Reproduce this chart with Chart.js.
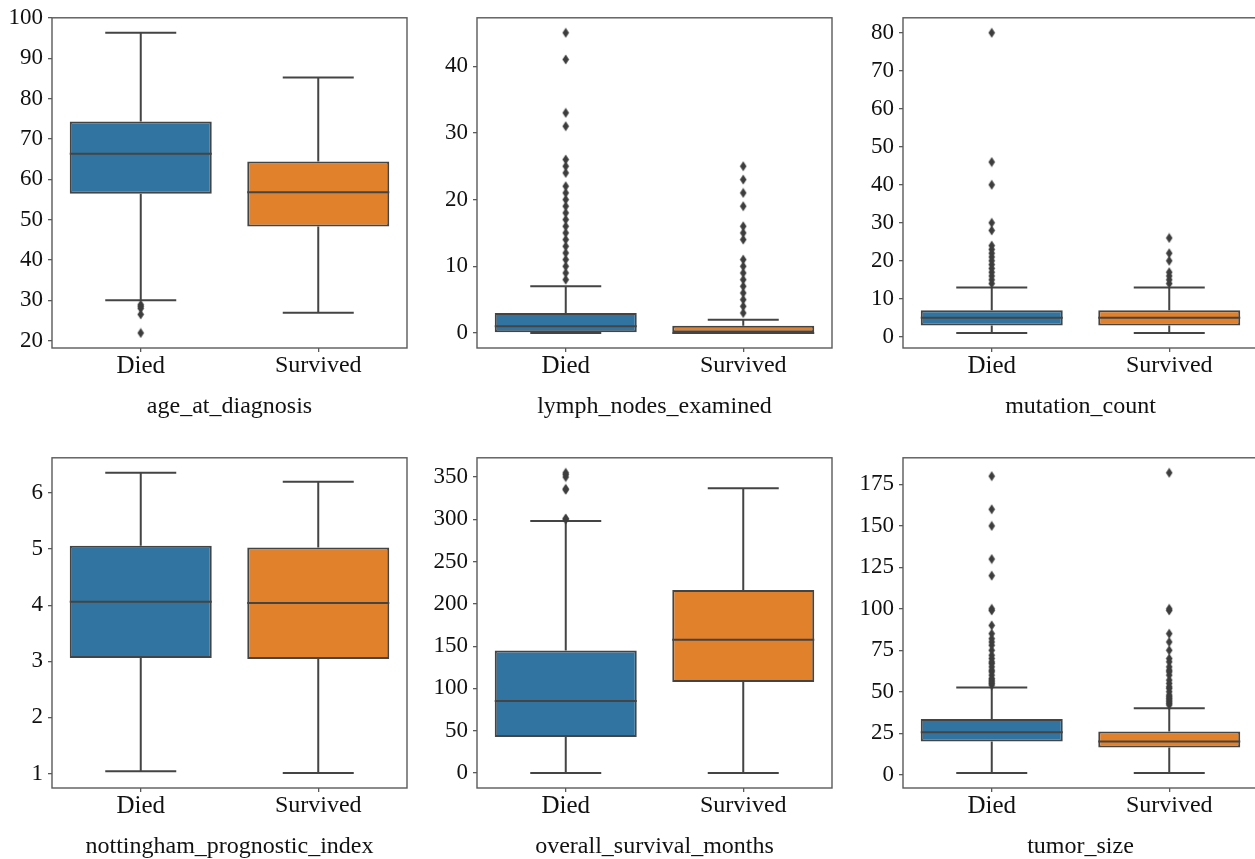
<!DOCTYPE html>
<html>
<head>
<meta charset="utf-8">
<title>Box plots by outcome</title>
<script src="https://cdn.jsdelivr.net/npm/chart.js@4/dist/chart.umd.min.js"></script>
<style>
  html, body { margin: 0; padding: 0; background: #fff; overflow: hidden; }
  body { width: 1255px; height: 859px; position: relative; }
  canvas { position: absolute; }
</style>
</head>
<body>
<canvas id="c0" width="417" height="424" style="left:0px;top:-1px"></canvas>
<canvas id="c1" width="417" height="424" style="left:425px;top:-1px"></canvas>
<canvas id="c2" width="417" height="424" style="left:851px;top:-1px"></canvas>
<canvas id="c3" width="417" height="424" style="left:0px;top:439px"></canvas>
<canvas id="c4" width="417" height="424" style="left:425px;top:439px"></canvas>
<canvas id="c5" width="417" height="424" style="left:851px;top:439px"></canvas>
<script>
// groups on the x axis
const groups = ['Died', 'Survived'];

// five-number summaries: [lower whisker, Q1, median, Q3, upper whisker]
const ageDied = [30.0, 56.4, 66.3, 74.3, 96.3];
const ageSurvived = [26.9, 48.3, 56.8, 64.4, 85.2];
const ageDiedOut = [28.9, 28.5, 28.0, 26.5, 21.9];
const ageSurvivedOut = [];
const ageTicks = [20, 30, 40, 50, 60, 70, 80, 90, 100];

const lymphDied = [0, 0, 1, 3, 7];
const lymphSurvived = [0, 0, 0, 1.1, 2];
const lymphDiedOut = [8, 9, 10, 11, 12, 13, 14, 15, 16, 17, 18, 19, 20, 21, 22, 24, 25, 26, 31, 33, 41, 45];
const lymphSurvivedOut = [3, 4, 5, 6, 7, 8, 9, 10, 11, 14, 15, 16, 19, 21, 23, 25];
const lymphTicks = [0, 10, 20, 30, 40];

const mutDied = [1, 3, 5, 7, 13];
const mutSurvived = [1, 3, 5, 7, 13];
const mutDiedOut = [14, 15, 16, 17, 18, 19, 20, 21, 22, 23, 24, 28, 30, 40, 46, 80];
const mutSurvivedOut = [14, 15, 16, 17, 20, 22, 26];
const mutTicks = [0, 10, 20, 30, 40, 50, 60, 70, 80];

const npiDied = [1.04, 3.06, 4.06, 5.06, 6.36];
const npiSurvived = [1.01, 3.04, 4.04, 5.03, 6.2];
const npiDiedOut = [];
const npiSurvivedOut = [];
const npiTicks = [1, 2, 3, 4, 5, 6];

const osmDied = [0, 42.6, 85.2, 145, 298];
const osmSurvived = [0, 107.6, 157.7, 216.3, 336.6];
const osmDiedOut = [300, 301, 335, 336, 350, 353, 355];
const osmSurvivedOut = [];
const osmTicks = [0, 50, 100, 150, 200, 250, 300, 350];

const tumorDied = [1, 20, 25.5, 33.5, 52.5];
const tumorSurvived = [1, 16.4, 20, 26, 40];
const tumorDiedOut = [54, 55, 56, 57, 58, 60, 62, 63, 65, 67, 68, 70, 72, 75, 78, 80, 82, 85, 90, 99, 100, 120, 130, 150, 160, 180];
const tumorSurvivedOut = [42, 43, 44, 45, 46, 47, 48, 50, 52, 53, 55, 57, 60, 62, 63, 65, 68, 70, 75, 80, 85, 99, 100, 182];
const tumorTicks = [0, 25, 50, 75, 100, 125, 150, 175];

const titles = ['age_at_diagnosis', 'lymph_nodes_examined', 'mutation_count',
  'nottingham_prognostic_index', 'overall_survival_months', 'tumor_size'];

const BLUE = '#3274a1';
const ORANGE = '#e1812c';
const LINE = '#444444';
const FRAME = '#5a5a5a';
const SERIF = "'Liberation Serif', 'Times New Roman', serif";

// thin diamond marker like matplotlib's 'd'
function makeDiamond() {
  const c = document.createElement('canvas');
  c.width = 8; c.height = 11;
  const g = c.getContext('2d');
  g.fillStyle = '#3d3d3d';
  g.beginPath();
  g.moveTo(4, 0.5);
  g.lineTo(7.3, 5.5);
  g.lineTo(4, 10.5);
  g.lineTo(0.7, 5.5);
  g.closePath();
  g.fill();
  return c;
}
const diamond = makeDiamond();

// whiskers, caps, medians and the axes frame
const boxExtras = {
  id: 'boxExtras',
  beforeDatasetsDraw(chart, args, opts) {
    const { ctx, scales: { x, y } } = chart;
    const cap = (x.getPixelForValue(1) - x.getPixelForValue(0)) * 0.2;
    ctx.save();
    ctx.strokeStyle = LINE;
    ctx.lineWidth = 2;
    opts.stats.forEach((st, i) => {
      const cx = x.getPixelForValue(i);
      ctx.beginPath();
      ctx.moveTo(cx, y.getPixelForValue(st[0]));
      ctx.lineTo(cx, y.getPixelForValue(st[1]));
      ctx.moveTo(cx, y.getPixelForValue(st[3]));
      ctx.lineTo(cx, y.getPixelForValue(st[4]));
      ctx.moveTo(cx - cap, y.getPixelForValue(st[0]));
      ctx.lineTo(cx + cap, y.getPixelForValue(st[0]));
      ctx.moveTo(cx - cap, y.getPixelForValue(st[4]));
      ctx.lineTo(cx + cap, y.getPixelForValue(st[4]));
      ctx.stroke();
    });
    ctx.restore();
  },
  afterDatasetsDraw(chart, args, opts) {
    const { ctx, scales: { x, y } } = chart;
    const half = (x.getPixelForValue(1) - x.getPixelForValue(0)) * 0.4;
    ctx.save();
    ctx.strokeStyle = LINE;
    ctx.lineWidth = 2;
    opts.stats.forEach((st, i) => {
      const cx = x.getPixelForValue(i);
      const my = y.getPixelForValue(st[2]);
      ctx.beginPath();
      ctx.moveTo(cx - half, my);
      ctx.lineTo(cx + half, my);
      ctx.stroke();
    });
    ctx.restore();
  },
  afterDraw(chart) {
    const { ctx, chartArea: a } = chart;
    ctx.save();
    ctx.strokeStyle = FRAME;
    ctx.lineWidth = 1.4;
    ctx.strokeRect(a.left, a.top, a.right - a.left, a.bottom - a.top);
    ctx.restore();
  }
};

const panels = [
  { id: 'c0', died: ageDied, surv: ageSurvived, diedOut: ageDiedOut, survOut: ageSurvivedOut, ticks: ageTicks },
  { id: 'c1', died: lymphDied, surv: lymphSurvived, diedOut: lymphDiedOut, survOut: lymphSurvivedOut, ticks: lymphTicks },
  { id: 'c2', died: mutDied, surv: mutSurvived, diedOut: mutDiedOut, survOut: mutSurvivedOut, ticks: mutTicks },
  { id: 'c3', died: npiDied, surv: npiSurvived, diedOut: npiDiedOut, survOut: npiSurvivedOut, ticks: npiTicks },
  { id: 'c4', died: osmDied, surv: osmSurvived, diedOut: osmDiedOut, survOut: osmSurvivedOut, ticks: osmTicks },
  { id: 'c5', died: tumorDied, surv: tumorSurvived, diedOut: tumorDiedOut, survOut: tumorSurvivedOut, ticks: tumorTicks },
];

panels.forEach((p, k) => {
  const all = p.died.concat(p.surv, p.diedOut, p.survOut);
  const lo = Math.min(...all), hi = Math.max(...all);
  const pad = (hi - lo) * 0.05;

  const outliers = p.diedOut.map(v => ({ x: 'Died', y: v }))
    .concat(p.survOut.map(v => ({ x: 'Survived', y: v })));

  new Chart(document.getElementById(p.id), {
    type: 'bar',
    data: {
      labels: groups,
      datasets: [
        {
          type: 'bar',
          data: [[p.died[1], p.died[3]], [p.surv[1], p.surv[3]]],
          backgroundColor: [BLUE, ORANGE],
          borderColor: LINE,
          borderWidth: 2,
          borderSkipped: false,
          barPercentage: 0.8,
          categoryPercentage: 1.0,
          order: 2,
        },
        {
          type: 'scatter',
          data: outliers,
          pointStyle: diamond,
          pointRadius: 4,
          order: 1,
        },
      ],
    },
    options: {
      responsive: false,
      animation: false,
      events: [],
      layout: { padding: { left: 0, top: 15, right: 10, bottom: 0 } },
      plugins: {
        legend: { display: false },
        tooltip: { enabled: false },
        boxExtras: { stats: [p.died, p.surv] },
      },
      scales: {
        x: {
          type: 'category',
          offset: true,
          grid: { offset: false, drawOnChartArea: false, tickLength: 4, color: FRAME, lineWidth: 1.3 },
          border: { display: false },
          ticks: {
            color: '#111',
            padding: 2,
            font: c => ({ family: SERIF, size: c.index === 0 ? 25 : 24, lineHeight: 1 }),
          },
          title: {
            display: true,
            text: titles[k],
            color: '#111',
            font: { family: SERIF, size: 24 },
            padding: { top: 0, bottom: 2 },
          },
          afterFit: s => { s.height = 75; },
        },
        y: {
          type: 'linear',
          bounds: 'data',
          min: lo - pad,
          max: hi + pad,
          grid: { drawOnChartArea: false, tickLength: 4, color: FRAME, lineWidth: 1.3 },
          border: { display: false },
          afterBuildTicks: s => { s.ticks = p.ticks.map(v => ({ value: v })); },
          ticks: {
            autoSkip: false,
            color: '#111',
            padding: 5,
            font: { family: SERIF, size: 23 },
            callback: v => String(v),
          },
          afterFit: s => { s.width = 52; },
        },
      },
    },
    plugins: [boxExtras],
  });
});
</script>
</body>
</html>
